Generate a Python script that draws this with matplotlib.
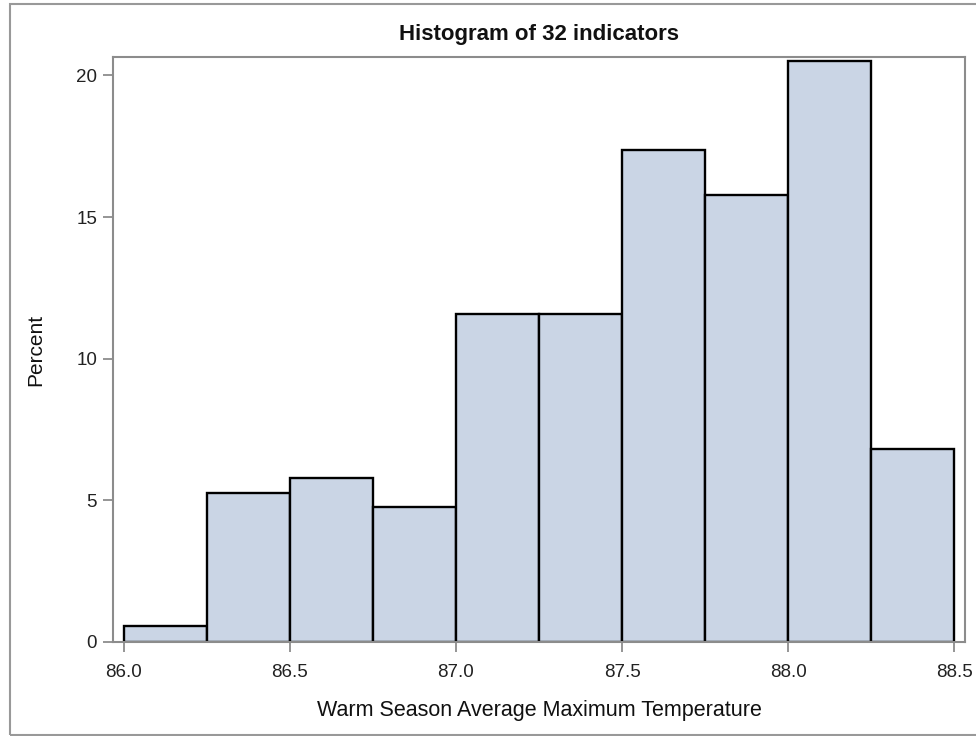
import numpy as np
import matplotlib
matplotlib.use('Agg')
import matplotlib.pyplot as plt
from matplotlib.patches import Rectangle

plt.rcParams['font.family'] = ['Liberation Sans', 'DejaVu Sans']

# bin edges (left side of each bar) and percent of indicators per bin
bin_left = [86.00, 86.25, 86.50, 86.75, 87.00, 87.25, 87.50, 87.75, 88.00, 88.25]
bin_width = 0.25
percent = [0.56, 5.27, 5.80, 4.77, 11.58, 11.58, 17.35, 15.78, 20.52, 6.83]

xticks = [86.0, 86.5, 87.0, 87.5, 88.0, 88.5]
xtick_labels = ['86.0', '86.5', '87.0', '87.5', '88.0', '88.5']
yticks = [0, 5, 10, 15, 20]

fill_color = '#CAD5E5'
axis_gray = '#8c8c8c'

fig = plt.figure(figsize=(9.76, 7.36), dpi=100)
ax = fig.add_axes([113 / 976, 94 / 736, (965 - 113) / 976, (642 - 57) / 736])

ax.bar(bin_left, percent, width=bin_width, align='edge',
       color=fill_color, edgecolor='black', linewidth=1.7, zorder=2)

ax.set_xlim(85.967, 88.533)
ax.set_ylim(0, 20.65)
ax.set_xticks(xticks)
ax.set_xticklabels(xtick_labels)
ax.set_yticks(yticks)

for side in ['left', 'right', 'top', 'bottom']:
  ax.spines[side].set_color(axis_gray)
  ax.spines[side].set_linewidth(1.5)

ax.tick_params(axis='both', direction='out', length=7.5, width=1.3,
               color=axis_gray, labelsize=13.5, labelcolor='#222222')
ax.tick_params(axis='x', pad=8)
ax.tick_params(axis='y', pad=4)

ax.set_xlabel('Warm Season Average Maximum Temperature', fontsize=15.5,
              color='#111111', labelpad=14)
ax.set_ylabel('Percent', fontsize=15, color='#111111', labelpad=22)
ax.set_title('Histogram of 32 indicators', fontsize=16, fontweight='bold',
             color='#111111', pad=12)

# gray frame around the whole graph
frame = Rectangle((10 / 976, 1 / 736), 1.0, 731 / 736, transform=fig.transFigure,
                  facecolor='none', edgecolor='#999999', linewidth=1.5,
                  clip_on=False)
fig.patches.append(frame)

fig.savefig('out.png', dpi=100)
